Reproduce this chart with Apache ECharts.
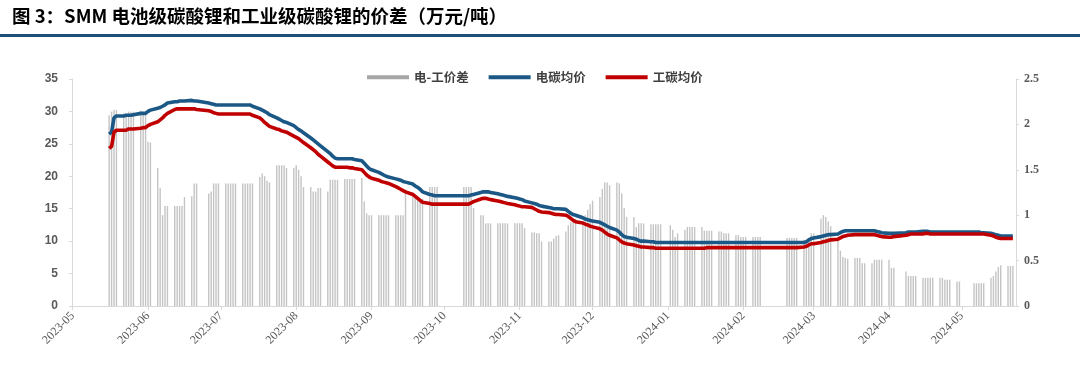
<!DOCTYPE html>
<html>
<head>
<meta charset="utf-8">
<script src="https://cdn.jsdelivr.net/npm/echarts@6/dist/echarts.min.js"></script>
<style>
html,body{margin:0;padding:0;background:#fff;}
#chart{width:1080px;height:368px;}
</style>
</head>
<body>
<div id="chart"></div>
<script>
// Trading dates
const tradeDates = [
'2023-05-16','2023-05-17','2023-05-18','2023-05-19','2023-05-22','2023-05-23','2023-05-24','2023-05-25','2023-05-26','2023-05-29','2023-05-30','2023-05-31',
'2023-06-01','2023-06-02','2023-06-05','2023-06-06','2023-06-07','2023-06-08','2023-06-09','2023-06-12','2023-06-13','2023-06-14','2023-06-15','2023-06-16','2023-06-19','2023-06-20','2023-06-21','2023-06-26','2023-06-27','2023-06-28','2023-06-29','2023-06-30',
'2023-07-03','2023-07-04','2023-07-05','2023-07-06','2023-07-07','2023-07-10','2023-07-11','2023-07-12','2023-07-13','2023-07-14','2023-07-17','2023-07-18','2023-07-19','2023-07-20','2023-07-21','2023-07-24','2023-07-25','2023-07-26','2023-07-27','2023-07-28','2023-07-31',
'2023-08-01','2023-08-02','2023-08-03','2023-08-04','2023-08-07','2023-08-08','2023-08-09','2023-08-10','2023-08-11','2023-08-14','2023-08-15','2023-08-16','2023-08-17','2023-08-18','2023-08-21','2023-08-22','2023-08-23','2023-08-24','2023-08-25','2023-08-28','2023-08-29','2023-08-30','2023-08-31',
'2023-09-01','2023-09-04','2023-09-05','2023-09-06','2023-09-07','2023-09-08','2023-09-11','2023-09-12','2023-09-13','2023-09-14','2023-09-15','2023-09-18','2023-09-19','2023-09-20','2023-09-21','2023-09-22','2023-09-25','2023-09-26','2023-09-27','2023-09-28',
'2023-10-09','2023-10-10','2023-10-11','2023-10-12','2023-10-13','2023-10-16','2023-10-17','2023-10-18','2023-10-19','2023-10-20','2023-10-23','2023-10-24','2023-10-25','2023-10-26','2023-10-27','2023-10-30','2023-10-31',
'2023-11-01','2023-11-02','2023-11-03','2023-11-06','2023-11-07','2023-11-08','2023-11-09','2023-11-10','2023-11-13','2023-11-14','2023-11-15','2023-11-16','2023-11-17','2023-11-20','2023-11-21','2023-11-22','2023-11-23','2023-11-24','2023-11-27','2023-11-28','2023-11-29','2023-11-30',
'2023-12-01','2023-12-04','2023-12-05','2023-12-06','2023-12-07','2023-12-08','2023-12-11','2023-12-12','2023-12-13','2023-12-14','2023-12-15','2023-12-18','2023-12-19','2023-12-20','2023-12-21','2023-12-22','2023-12-25','2023-12-26','2023-12-27','2023-12-28','2023-12-29',
'2024-01-02','2024-01-03','2024-01-04','2024-01-05','2024-01-08','2024-01-09','2024-01-10','2024-01-11','2024-01-12','2024-01-15','2024-01-16','2024-01-17','2024-01-18','2024-01-19','2024-01-22','2024-01-23','2024-01-24','2024-01-25','2024-01-26','2024-01-29','2024-01-30','2024-01-31',
'2024-02-01','2024-02-02','2024-02-05','2024-02-06','2024-02-07','2024-02-08','2024-02-19','2024-02-20','2024-02-21','2024-02-22','2024-02-23','2024-02-26','2024-02-27','2024-02-28','2024-02-29',
'2024-03-01','2024-03-04','2024-03-05','2024-03-06','2024-03-07','2024-03-08','2024-03-11','2024-03-12','2024-03-13','2024-03-14','2024-03-15','2024-03-18','2024-03-19','2024-03-20','2024-03-21','2024-03-22','2024-03-25','2024-03-26','2024-03-27','2024-03-28','2024-03-29',
'2024-04-01','2024-04-02','2024-04-03','2024-04-08','2024-04-09','2024-04-10','2024-04-11','2024-04-12','2024-04-15','2024-04-16','2024-04-17','2024-04-18','2024-04-19','2024-04-22','2024-04-23','2024-04-24','2024-04-25','2024-04-26','2024-04-29','2024-04-30',
'2024-05-06','2024-05-07','2024-05-08','2024-05-09','2024-05-10','2024-05-13','2024-05-14','2024-05-15','2024-05-16','2024-05-17','2024-05-20','2024-05-21','2024-05-22'
];

// 电碳均价 (万元/吨, left axis)
const batteryAvg = [
26.5,26.8,29.0,29.3,29.3,29.4,29.4,29.4,29.5,29.7,29.7,29.7,
30.0,30.2,30.5,30.6,30.8,31.0,31.3,31.5,31.5,31.6,31.6,31.6,31.7,31.6,31.6,31.3,31.2,31.1,31.0,31.0,
31.0,31.0,31.0,31.0,31.0,31.0,31.0,31.0,31.0,30.8,30.4,30.2,30.0,29.8,29.5,29.0,28.8,28.6,28.4,28.3,27.8,
27.5,27.2,27.0,26.7,25.9,25.6,25.3,25.0,24.7,23.8,23.5,23.1,22.8,22.7,22.7,22.7,22.7,22.7,22.6,22.4,22.0,21.6,21.2,
21.0,20.6,20.4,20.2,20.0,19.9,19.6,19.5,19.4,19.2,19.1,18.8,18.5,18.3,18.0,17.6,17.2,17.1,17.0,17.0,
17.0,17.0,17.0,17.1,17.2,17.5,17.6,17.6,17.6,17.5,17.3,17.2,17.1,17.0,16.9,16.7,16.6,
16.5,16.4,16.2,15.9,15.8,15.7,15.5,15.4,15.2,15.1,15.0,15.0,15.0,14.9,14.6,14.3,14.1,14.0,13.6,13.4,13.3,13.2,
13.1,12.9,12.7,12.5,12.3,12.1,11.7,11.4,11.0,10.7,10.6,10.4,10.3,10.1,10.0,10.0,9.9,9.9,9.8,9.8,9.8,
9.8,9.8,9.8,9.8,9.8,9.8,9.8,9.8,9.8,9.8,9.8,9.8,9.8,9.8,9.8,9.8,9.8,9.8,9.8,9.8,9.8,9.8,
9.8,9.8,9.8,9.8,9.8,9.8,9.8,9.8,9.8,9.8,9.8,9.8,9.9,10.2,10.4,
10.5,10.7,10.8,10.9,11.0,11.0,11.1,11.3,11.5,11.6,11.6,11.6,11.6,11.6,11.6,11.6,11.6,11.6,11.5,11.4,11.3,
11.2,11.2,11.2,11.3,11.4,11.4,11.4,11.4,11.5,11.5,11.5,11.4,11.4,11.4,11.4,11.4,11.4,11.4,11.4,11.4,
11.4,11.4,11.4,11.3,11.3,11.2,11.1,11.0,10.9,10.8,10.8,10.8,10.8
];

// 工碳均价 (万元/吨, left axis)
const industrialAvg = [
24.3,24.6,26.8,27.1,27.1,27.1,27.3,27.3,27.3,27.4,27.5,27.5,
27.8,28.0,28.4,28.7,29.0,29.4,29.7,30.3,30.4,30.4,30.4,30.4,30.4,30.4,30.3,30.1,30.0,29.8,29.7,29.6,
29.6,29.6,29.6,29.6,29.6,29.6,29.6,29.6,29.6,29.4,29.0,28.7,28.3,28.0,27.7,27.3,27.2,27.0,26.9,26.8,26.2,
26.0,25.8,25.5,25.2,24.4,24.1,23.8,23.4,23.1,22.2,21.9,21.6,21.4,21.4,21.4,21.4,21.3,21.3,21.2,21.0,20.6,20.2,19.9,
19.7,19.4,19.2,19.1,19.0,18.9,18.4,18.2,18.0,17.8,17.6,17.2,16.9,16.6,16.3,16.0,15.8,15.7,15.7,15.7,
15.7,15.7,15.7,15.9,16.1,16.5,16.6,16.6,16.5,16.4,16.2,16.1,16.0,15.9,15.8,15.6,15.5,
15.4,15.3,15.3,15.2,15.0,14.8,14.6,14.5,14.4,14.3,14.2,14.1,14.1,14.0,13.8,13.5,13.2,13.0,12.8,12.6,12.5,12.3,
12.2,11.9,11.7,11.4,11.1,10.9,10.5,10.2,9.9,9.7,9.6,9.4,9.3,9.2,9.1,9.1,9.0,9.0,8.9,8.9,8.9,
8.9,8.9,8.9,8.9,8.9,8.9,8.9,8.9,8.9,8.9,8.9,9.0,9.0,9.0,9.0,9.0,9.0,9.0,9.0,9.0,9.0,9.0,
9.0,9.0,9.0,9.0,9.0,9.0,9.0,9.0,9.0,9.0,9.0,9.1,9.2,9.4,9.6,
9.6,9.8,9.9,10.0,10.1,10.2,10.3,10.5,10.7,10.8,10.9,11.0,11.0,11.0,11.0,11.0,11.0,11.0,10.9,10.8,10.7,
10.6,10.6,10.7,10.9,11.0,11.1,11.1,11.1,11.1,11.2,11.2,11.1,11.1,11.1,11.1,11.1,11.1,11.1,11.1,11.1,
11.1,11.1,11.1,11.1,11.1,10.9,10.8,10.6,10.5,10.4,10.4,10.4,10.4
];

// 电-工价差 (万元/吨, right axis)
const priceSpread = [
2.10,2.14,2.16,2.16,2.12,2.12,2.14,2.14,2.14,2.15,2.14,2.14,
1.81,1.80,1.52,1.30,1.00,1.10,1.10,1.10,1.10,1.10,1.10,1.20,1.21,1.35,1.35,1.24,1.26,1.35,1.35,1.35,
1.35,1.35,1.35,1.35,1.35,1.35,1.35,1.35,1.35,1.35,1.42,1.46,1.43,1.38,1.36,1.55,1.55,1.55,1.55,1.52,1.52,
1.55,1.50,1.43,1.31,1.31,1.26,1.26,1.30,1.30,1.26,1.39,1.39,1.39,1.39,1.40,1.40,1.40,1.40,1.40,1.41,1.15,1.02,1.00,
1.00,1.00,1.00,1.00,1.00,1.00,1.00,1.00,1.00,1.00,1.28,1.25,1.22,1.20,1.18,1.18,1.31,1.31,1.31,1.31,
1.31,1.31,1.31,1.31,1.08,1.00,1.00,0.91,0.91,0.91,0.91,0.91,0.91,0.91,0.91,0.91,0.91,
0.91,0.91,0.86,0.81,0.81,0.80,0.80,0.71,0.71,0.71,0.74,0.77,0.78,0.82,0.89,0.92,0.96,0.96,0.93,1.00,1.06,1.12,
1.16,1.20,1.29,1.36,1.36,1.33,1.36,1.35,1.24,1.08,0.98,0.98,0.87,0.91,0.91,0.91,0.90,0.90,0.90,0.90,0.90,
0.89,0.84,0.76,0.80,0.84,0.87,0.87,0.87,0.87,0.87,0.83,0.83,0.83,0.83,0.82,0.82,0.80,0.80,0.80,0.78,0.78,0.76,
0.76,0.76,0.76,0.76,0.76,0.76,0.75,0.75,0.75,0.75,0.75,0.73,0.73,0.75,0.80,
0.80,0.96,1.00,0.98,0.93,0.88,0.73,0.61,0.54,0.53,0.52,0.53,0.53,0.53,0.47,0.47,0.47,0.51,0.51,0.51,0.51,
0.51,0.42,0.42,0.38,0.33,0.33,0.33,0.33,0.31,0.31,0.31,0.31,0.31,0.31,0.31,0.29,0.29,0.29,0.27,0.27,
0.25,0.25,0.25,0.25,0.25,0.31,0.33,0.38,0.43,0.45,0.44,0.44,0.44
];

const leftTicks = [0, 35, 5];      // min, max, interval
const rightTicks = [0, 2.5, 0.5];
const xRange = ['2023-05-01', '2024-05-23'];
const titleText = '图 3：SMM 电池级碳酸锂和工业级碳酸锂的价差（万元/吨）';
const seriesNames = ['电-工价差', '电碳均价', '工碳均价'];

const chart = echarts.init(document.getElementById('chart'), null, {renderer: 'canvas'});
const axisGray = '#d9d9d9';
const labelGray = '#595959';

chart.setOption({
  backgroundColor: '#ffffff',
  animation: false,
  graphic: [
    {type: 'text', left: 12, top: 7, style: {text: titleText, font: 'bold 18.5px "Noto Sans CJK SC"', fill: '#000000'}},
    {type: 'rect', left: 0, top: 34, shape: {width: 1080, height: 3}, style: {fill: '#1F4E79'}}
  ],
  legend: {
    left: 362, top: 66, itemGap: 20, itemWidth: 42, itemHeight: 4,
    icon: 'rect',
    textStyle: {fontFamily: '"Noto Sans CJK SC"', fontSize: 12.5, fontWeight: 'bold', color: '#404040'},
    data: [
      {name: seriesNames[0], itemStyle: {color: '#a6a6a6'}},
      {name: seriesNames[1]},
      {name: seriesNames[2]}
    ]
  },
  grid: {left: 72, right: 64, top: 79, bottom: 62, containLabel: false},
  xAxis: {
    type: 'time',
    min: xRange[0], max: xRange[1],
    splitNumber: 13,
    minInterval: 28 * 86400000,
    maxInterval: 31 * 86400000,
    axisLine: {lineStyle: {color: axisGray}},
    axisTick: {show: true, length: 4, lineStyle: {color: axisGray}},
    splitLine: {show: false},
    axisLabel: {
      rotate: 45, formatter: '{yyyy}-{MM}', color: labelGray,
      fontFamily: '"Liberation Serif"', fontSize: 12, margin: 8,
      showMaxLabel: false, hideOverlap: false
    }
  },
  yAxis: [
    {
      type: 'value', min: leftTicks[0], max: leftTicks[1], interval: leftTicks[2],
      axisLine: {show: true, lineStyle: {color: axisGray}},
      axisTick: {show: true, length: 3, lineStyle: {color: axisGray}},
      splitLine: {show: false},
      axisLabel: {color: labelGray, fontFamily: '"Liberation Sans"', fontSize: 12, fontWeight: 'bold', margin: 14}
    },
    {
      type: 'value', min: rightTicks[0], max: rightTicks[1], interval: rightTicks[2],
      position: 'right',
      axisLine: {show: true, lineStyle: {color: axisGray}},
      axisTick: {show: true, length: 3, lineStyle: {color: axisGray}},
      splitLine: {show: false},
      axisLabel: {color: labelGray, fontFamily: '"Liberation Serif"', fontSize: 12, fontWeight: 'bold', margin: 8}
    }
  ],
  series: [
    {
      name: seriesNames[0], type: 'bar', yAxisIndex: 1, barWidth: 1.4,
      itemStyle: {color: '#c4c4c4'},
      data: tradeDates.map((d, i) => [d, priceSpread[i]])
    },
    {
      name: seriesNames[1], type: 'line', yAxisIndex: 0, showSymbol: false, symbol: 'none',
      lineStyle: {color: '#1B5886', width: 3.6}, itemStyle: {color: '#1B5886'},
      data: tradeDates.map((d, i) => [d, batteryAvg[i]])
    },
    {
      name: seriesNames[2], type: 'line', yAxisIndex: 0, showSymbol: false, symbol: 'none',
      lineStyle: {color: '#C00000', width: 3.6}, itemStyle: {color: '#C00000'},
      data: tradeDates.map((d, i) => [d, industrialAvg[i]])
    }
  ]
});
</script>
</body>
</html>
